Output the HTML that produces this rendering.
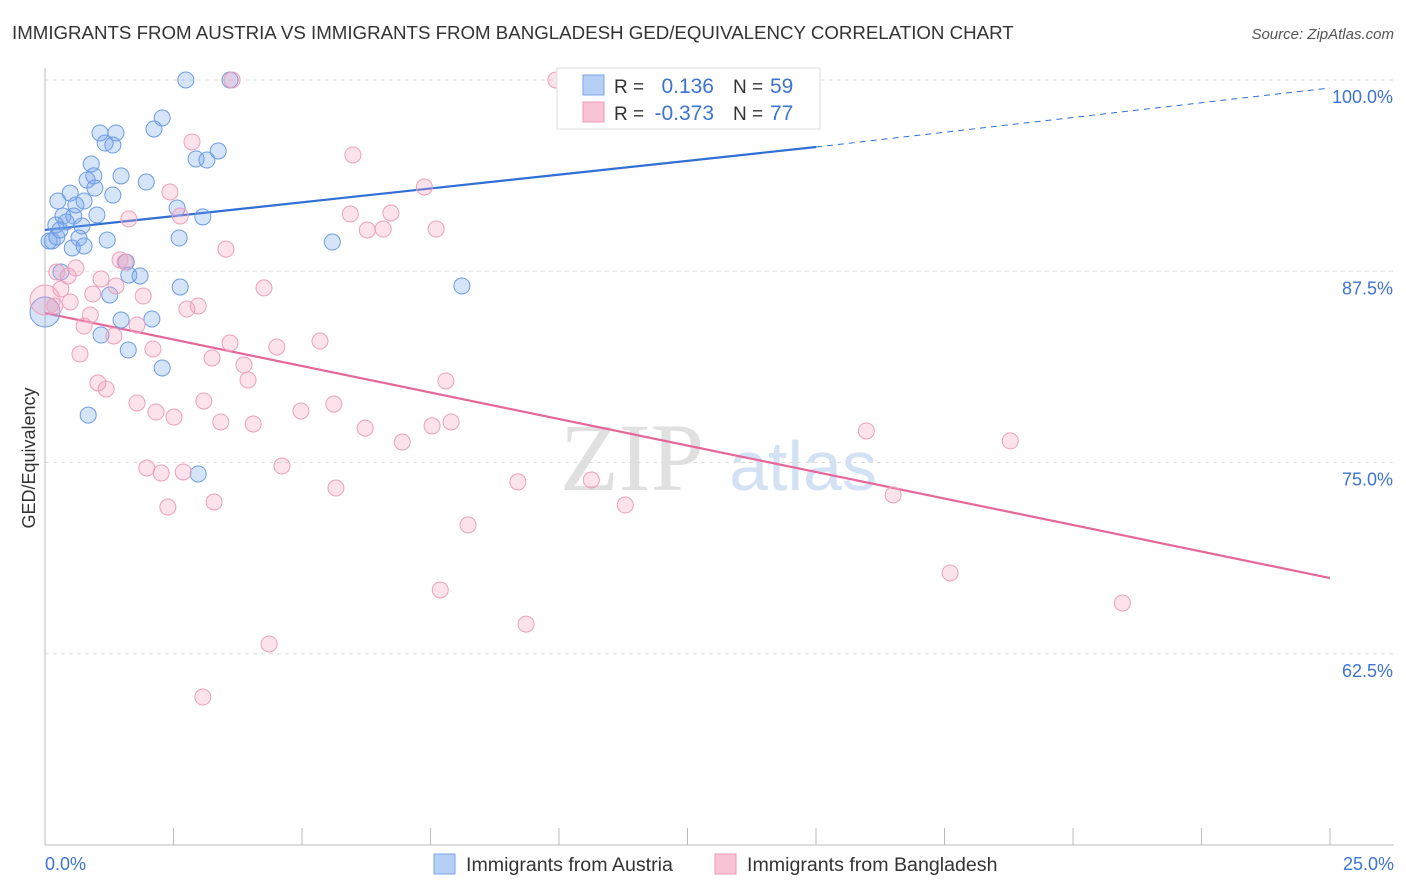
<!DOCTYPE html>
<html><head><meta charset="utf-8"><style>
body{margin:0;background:#fff;font-family:"Liberation Sans",sans-serif;}
svg{display:block}
</style></head><body>
<svg id="chart" width="1406" height="892">
<text x="12" y="39" font-size="18.7" fill="#333">IMMIGRANTS FROM AUSTRIA VS IMMIGRANTS FROM BANGLADESH GED/EQUIVALENCY CORRELATION CHART</text>
<text x="1394" y="39" font-size="15" fill="#555" font-style="italic" text-anchor="end">Source: ZipAtlas.com</text>
<g><text x="632" y="490" font-size="96" font-family="Liberation Serif,serif" fill="#e0e0e0" text-anchor="middle">ZIP</text><text x="803" y="490" font-size="70" fill="#d3e1f4" text-anchor="middle">atlas</text></g>
<text transform="translate(35,458) rotate(-90)" font-size="18" fill="#333" text-anchor="middle">GED/Equivalency</text>
<g id="grid"></g><g id="axes"></g><g id="lines"></g><g id="pts"></g>
<g>
<rect x="557" y="68" width="263" height="61" fill="#fff" stroke="#ddd"/>
<rect x="583" y="75" width="21" height="20" fill="#b5cff5" stroke="#7aa6e6"/>
<rect x="583" y="102" width="21" height="20" fill="#f8c3d4" stroke="#eb9bb6"/>
<text x="614" y="93" font-size="19" fill="#333">R =</text><text x="714" y="93" font-size="21" fill="#3d74d1" text-anchor="end">0.136</text>
<text x="733" y="93" font-size="19" fill="#333">N =</text><text x="770" y="93" font-size="21" fill="#3d74d1">59</text>
<text x="614" y="120" font-size="19" fill="#333">R =</text><text x="714" y="120" font-size="21" fill="#3d74d1" text-anchor="end">-0.373</text>
<text x="733" y="120" font-size="19" fill="#333">N =</text><text x="770" y="120" font-size="21" fill="#3d74d1">77</text>
</g>
<g>
<rect x="434" y="854" width="21" height="20" fill="#b5cff5" stroke="#7aa6e6"/>
<text x="466" y="871" font-size="19.6" fill="#333">Immigrants from Austria</text>
<rect x="715" y="854" width="21" height="20" fill="#f8c3d4" stroke="#eb9bb6"/>
<text x="747" y="871" font-size="19.6" fill="#333">Immigrants from Bangladesh</text>
</g>
</svg>
<script>
const xTicks=[0,2.5,5,7.5,10,12.5,15,17.5,20,22.5,25];
const yTicks=[100,87.5,75,62.5];
const yTickLabels=["100.0%","87.5%","75.0%","62.5%"];
const xEndLabels=["0.0%","25.0%"];
const austriaX=[2.74,3.60,2.28,2.12,1.07,1.38,1.17,1.32,3.37,2.94,3.15,0.90,1.97,1.48,0.95,0.82,0.97,0.49,1.32,0.25,0.76,0.60,2.57,0.35,0.56,1.01,3.07,0.41,0.72,0.29,0.21,0.66,1.21,2.61,5.59,0.14,0.53,0.76,1.58,0.31,1.63,1.85,1.26,2.63,8.11,2.08,1.48,1.09,1.62,2.28,0.84,2.98,0,0.23,0.08];
const austriaY=[100,100,97.52,96.8,96.54,96.54,95.88,95.75,95.36,94.84,94.77,94.51,93.33,93.73,93.73,93.46,92.94,92.61,92.48,92.09,92.09,91.83,91.63,91.11,91.11,91.18,91.05,90.72,90.46,90.2,90.52,89.67,89.54,89.67,89.41,89.48,89.02,89.15,88.1,87.45,87.25,87.19,85.95,86.47,86.54,84.38,84.31,83.33,82.35,81.18,78.1,74.25,84.84,89.74,89.48];
const bangX=[3.64,9.94,2.86,5.99,2.43,7.38,5.94,6.73,2.63,1.63,6.27,6.58,7.61,3.52,1.46,1.56,0.23,0.45,0.60,4.26,1.09,0.31,1.38,0.93,1.91,0.49,2.98,2.76,0.19,0.88,1.79,0.76,1.34,3.60,5.35,4.51,2.10,0.68,3.25,3.87,1.03,1.19,3.95,7.80,3.09,1.79,5.62,2.16,2.51,4.98,3.42,4.05,6.23,7.53,7.90,6.95,15.98,18.78,1.98,2.26,2.69,4.61,5.66,9.20,10.63,2.39,3.29,11.29,16.50,8.23,17.61,7.69,20.96,9.36,4.36,3.07,0];
const bangY=[100,100,95.95,95.1,92.68,93.01,91.24,91.31,91.11,90.92,90.2,90.26,90.26,88.95,88.24,88.1,87.45,87.19,87.71,86.41,86.99,86.34,86.54,86.01,85.88,85.49,85.23,85.03,85.23,84.64,83.99,83.92,83.27,82.81,82.94,82.55,82.42,82.09,81.83,81.37,80.2,79.8,80.39,80.33,79.02,78.89,78.82,78.3,77.97,78.37,77.65,77.52,77.25,77.39,77.65,76.34,77.06,76.41,74.64,74.31,74.38,74.77,73.33,73.73,73.86,72.09,72.42,72.22,72.88,70.92,67.78,66.67,65.82,64.44,63.14,59.67,85.62];
const austriaTrend=[90.2,95.62,99.48]; // at x=0,15,25
const bangTrend=[84.77,67.45]; // at x=0,25
const X=v=>45+v/25*1285, Y=v=>80+(100-v)*15.3;
const NS="http://www.w3.org/2000/svg";
function mk(p,t,a){const e=document.createElementNS(NS,t);for(const k in a)e.setAttribute(k,a[k]);document.getElementById(p).appendChild(e);return e;}
yTicks.forEach((v,i)=>{
 const g=mk('grid','line',{x1:45,x2:1394,y1:Y(v),y2:Y(v),stroke:'#ddd','stroke-dasharray':'4,4'});
 
 
 const t=mk('axes','text',{x:1393,y:Y(v)+23,'font-size':18,fill:'#3d74d1','text-anchor':'end'});t.textContent=yTickLabels[i];
 
 
});
const ax=mk('axes','line',{x1:45,x2:45,y1:68,y2:845,stroke:'#bbb'});


const bx=mk('axes','line',{x1:45,x2:1394,y1:845,y2:845,stroke:'#bbb'});


xTicks.forEach(v=>{const l=mk('axes','line',{x1:X(v),x2:X(v),y1:828,y2:845,stroke:'#bbb'});
 
 });
[[0,'start',45],[1,'end',1394]].forEach(([i,a,x])=>{const t=mk('axes','text',{x:x,y:870,'font-size':18,fill:'#3d74d1','text-anchor':a});t.textContent=xEndLabels[i];
 
 });
function pts(xs,ys,fill,stroke,name){xs.forEach((x,i)=>{const big=x===0;
 const c=mk('pts','circle',{cx:X(x),cy:Y(ys[i]),r:big?15:8,fill:fill,stroke:stroke,'stroke-width':1});
 
 });}
pts(austriaX,austriaY,'rgba(120,165,235,0.3)','#6d9ce3','point-austria');
pts(bangX,bangY,'rgba(245,160,190,0.3)','#eba0bb','point-bangladesh');
const l1=mk('lines','line',{x1:X(0),y1:Y(austriaTrend[0]),x2:X(15),y2:Y(austriaTrend[1]),stroke:'#2f6fd6','stroke-width':2.2});


const l2=mk('lines','line',{x1:X(15),y1:Y(austriaTrend[1]),x2:X(25),y2:Y(austriaTrend[2]),stroke:'#2f6fd6','stroke-width':1,'stroke-dasharray':'6,5'});


const l3=mk('lines','line',{x1:X(0),y1:Y(bangTrend[0]),x2:X(25),y2:Y(bangTrend[1]),stroke:'#e5679a','stroke-width':2.2});


</script>
</body></html>
